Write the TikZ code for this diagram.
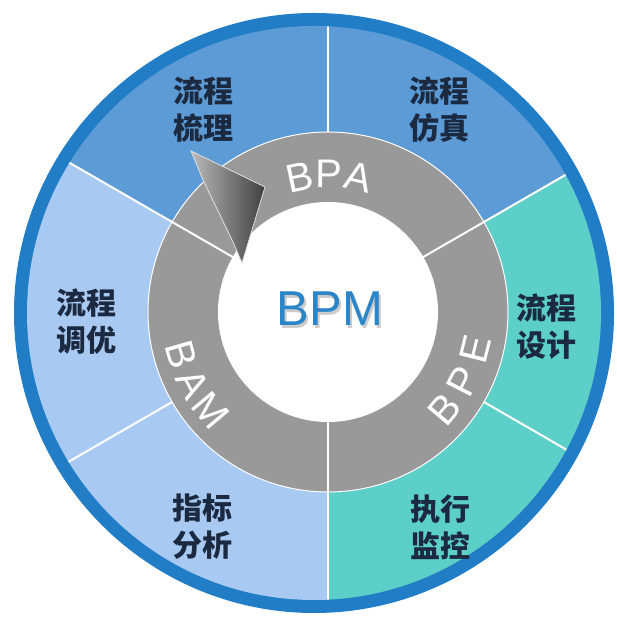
\documentclass[tikz,border=0pt]{standalone}
\usepackage{fontspec}
\setmainfont{Liberation Sans}
\newfontfamily\cjk{Noto Sans CJK SC}
\usepackage{xcolor}
\definecolor{ringblue}{RGB}{33,125,197}
\definecolor{midblue}{RGB}{92,155,214}
\definecolor{paleblue}{RGB}{168,202,242}
\definecolor{tealpart}{RGB}{92,207,201}
\definecolor{ringgray}{RGB}{153,153,153}
\definecolor{navytext}{RGB}{27,42,64}
\definecolor{bpmblue}{RGB}{42,134,200}

\tikzset{
	divider/.style={draw=white, line width=2},
	zhtext/.style={align=center, inner sep=0, text=navytext, font=\cjk\bfseries\fontsize{30}{37}\selectfont},
	ringletter/.style={inner sep=0, text=white, font=\fontsize{40}{40}\selectfont}
}

\begin{document}
\begin{tikzpicture}[x=1pt, y=1pt]
		\useasboundingbox (0,0) rectangle (617,617);
		\coordinate (O) at (328,305);
		\coordinate (R) at (314,304);
		\fill[ringblue] (R) circle (300);
		\begin{scope}
			\clip (R) circle (287);
			\fill[midblue] (O) -- ++(30:450) arc (30:150:450) -- cycle;
			\fill[paleblue] (O) -- ++(150:450) arc (150:270:450) -- cycle;
			\fill[tealpart] (O) -- ++(270:450) arc (270:390:450) -- cycle;
			\filldraw[fill=ringgray, draw=white, line width=1] (O) circle (180);
			\foreach \a in {30,150,270}
				\draw[divider] ([shift={(\a:110)}]O) -- ([shift={(\a:450)}]O);
			\foreach \a in {90,210,330}
				\draw[divider] ([shift={(\a:180)}]O) -- ([shift={(\a:450)}]O);
			\fill[white] (O) circle (110);
		\end{scope}
		%arrow head on the ring
		\shade[left color=gray!55, right color=black!75, draw=white!75!gray, line width=0.8]
			(191,466) -- (265,430) -- (242,354) -- (233,375) -- (203,437) -- cycle;
		\foreach \ch/\a in {B/102,P/89.5,A/77}
			\node[ringletter, rotate=\a-90] (bpa-\ch) at ([shift={(\a:138)}]O) {\ch};
		\foreach \ch/\a in {B/196,A/208,M/220}
			\node[ringletter, rotate=\a+90] (bam-\ch) at ([shift={(\a:153)}]O) {\ch};
		\foreach \ch/\a in {B/320,P/333,E/346}
			\node[ringletter, rotate=\a+90] (bpe-\ch) at ([shift={(\a:152)}]O) {\ch};
		\node[text=gray, opacity=0.4, font=\fontsize{49}{49}\selectfont] (bpm-shadow) at (332,305) {BPM};
		\node[text=bpmblue, font=\fontsize{49}{49}\selectfont] (bpm) at (330,308) {BPM};
		\node[zhtext] (shuli) at (203,507) {流程\\梳理};
		\node[zhtext] (fangzhen) at (439,507) {流程\\仿真};
		\node[zhtext] (tiaoyou) at (86,295) {流程\\调优};
		\node[zhtext] (sheji) at (546,290) {流程\\设计};
		\node[zhtext] (fenxi) at (202,90) {指标\\分析};
		\node[zhtext] (jiankong) at (440,90) {执行\\监控};
	\end{tikzpicture}
\end{document}
